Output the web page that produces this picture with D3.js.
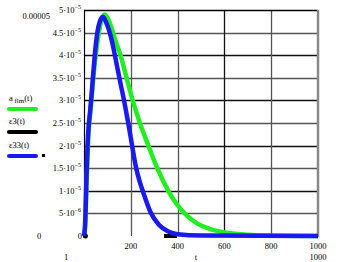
<!DOCTYPE html>
<html>
<head>
<meta charset="utf-8">
<script src="https://cdn.jsdelivr.net/npm/d3@7"></script>
<style>
  body { margin: 0; background: #fff; }
  text { font-family: "Liberation Serif", "DejaVu Serif", serif; fill: #000; }
</style>
</head>
<body>
<svg id="chart" width="339" height="262"></svg>
<script>
// a_flm(t) - green  (values in 1e-5)
const tGreen = [0, 5, 10, 16, 22, 30, 40, 50, 62, 75, 88, 105, 121, 132, 157, 182, 208, 239, 275, 313, 360, 400, 440, 483, 540, 600, 700, 800, 1000]
const aFlm   = [0, 0.2, 1.0, 1.9, 2.45, 2.9, 3.5, 4.0, 4.45, 4.78, 4.9, 4.78, 4.55, 4.36, 3.98, 3.5, 3.0, 2.5, 2.0, 1.5, 1.0, 0.68, 0.45, 0.28, 0.15, 0.08, 0.03, 0.01, 0]

// eps33(t) - blue
const tBlue = [0, 5, 10, 15, 20, 26, 31, 38, 46, 57, 68, 81, 95, 107, 118, 132, 151, 171, 189, 204, 221, 237, 253, 285, 320, 360, 400, 500, 1000]
const eps33 = [0, 0.3, 1.2, 2.0, 2.45, 2.75, 3.05, 3.5, 4.0, 4.5, 4.75, 4.85, 4.72, 4.55, 4.34, 4.0, 3.5, 3.0, 2.5, 2.05, 1.55, 1.22, 0.97, 0.52, 0.25, 0.1, 0.04, 0.01, 0]

// eps3(t) - black, only visible in a few spots at zero
const tBlack = [342, 355, 370, 385, 397]
const eps3   = [0, 0, 0, 0, 0]

const xTicks = [200, 400, 600, 800, 1000]
const yMant = ["5", "1", "1.5", "2", "2.5", "3", "3.5", "4", "4.5", "5"]
const yExp  = ["−6", "−5", "−5", "−5", "−5", "−5", "−5", "−5", "−5", "−5"]
const yVals = [0.5, 1, 1.5, 2, 2.5, 3, 3.5, 4, 4.5, 5]  // in 1e-5

const svg = d3.select("#chart")
const pLeft = 84, pRight = 318, pTop = 10, pBottom = 236

let x = d3.scaleLinear().domain([0, 1000]).range([pLeft, pRight])
let y = d3.scaleLinear().domain([0, 5]).range([pBottom, pTop])

// grid
svg.selectAll(".hgrid")
  .data(yVals.slice(0, -1))
  .enter().append("line")
    .attr("x1", pLeft).attr("x2", pRight)
    .attr("y1", d => Math.round(y(d)) + 0.5)
    .attr("y2", d => Math.round(y(d)) + 0.5)
    .attr("stroke", (d, i) => i % 2 ? "#111" : "#555")
    .attr("stroke-width", 1.3)

svg.selectAll(".vgrid")
  .data(xTicks.slice(0, -1))
  .enter().append("line")
    .attr("y1", pTop).attr("y2", pBottom)
    .attr("x1", d => Math.round(x(d)) + 0.5)
    .attr("x2", d => Math.round(x(d)) + 0.5)
    .attr("stroke", (d, i) => i == 2 ? "#111" : "#555")
    .attr("stroke-width", 1.3)

// frame
svg.append("line").attr("x1", pLeft).attr("x2", pRight).attr("y1", pTop + 0.5).attr("y2", pTop + 0.5)
  .attr("stroke", "#000").attr("stroke-width", 1.5)
svg.append("line").attr("x1", pLeft + 0.5).attr("x2", pLeft + 0.5).attr("y1", pTop).attr("y2", pBottom)
  .attr("stroke", "#000").attr("stroke-width", 1.2)
svg.append("line").attr("x1", pRight).attr("x2", pRight).attr("y1", pTop).attr("y2", pBottom + 1)
  .attr("stroke", "#888").attr("stroke-width", 2.5)

// curves
let line = d3.line()
  .x(d => x(d[0]))
  .y(d => y(d[1]))
  .curve(d3.curveMonotoneX)

svg.append("path")
  .datum(tGreen.map((t, i) => [t, aFlm[i]]))
  .attr("d", line)
  .attr("fill", "none")
  .attr("stroke", "#22ee22")
  .attr("stroke-width", 4.5)

svg.append("path")
  .datum(tBlack.map((t, i) => [t, eps3[i]]))
  .attr("d", line)
  .attr("fill", "none")
  .attr("stroke", "#000")
  .attr("stroke-width", 4)

svg.append("circle")
  .attr("cx", x(6)).attr("cy", y(0)).attr("r", 2.5).attr("fill", "#000")

svg.append("path")
  .datum(tBlue.map((t, i) => [t, eps33[i]]))
  .attr("d", line)
  .attr("fill", "none")
  .attr("stroke", "#1a1aee")
  .attr("stroke-width", 4.5)

// y tick labels
let yl = svg.selectAll(".ylab")
  .data(yVals)
  .enter().append("text")
    .attr("x", 81)
    .attr("y", d => y(d) + 3)
    .attr("text-anchor", "end")
    .attr("font-size", 8.5)
yl.append("tspan").text((d, i) => yMant[i] + "·10")
yl.append("tspan").attr("dy", -4).attr("font-size", 6).text((d, i) => yExp[i])

svg.append("text").attr("x", 82).attr("y", y(0) + 3).attr("text-anchor", "end")
  .attr("font-size", 8.5).text("0")

// x tick labels
svg.selectAll(".xlab")
  .data(xTicks)
  .enter().append("text")
    .attr("x", d => x(d))
    .attr("y", 249)
    .attr("text-anchor", "middle")
    .attr("font-size", 8.5)
    .text(d => d)

// range labels
svg.append("text").attr("x", 50).attr("y", 19).attr("text-anchor", "end").attr("font-size", 8.5).text("0.00005")
svg.append("text").attr("x", 39).attr("y", 239).attr("text-anchor", "middle").attr("font-size", 8.5).text("0")
svg.append("text").attr("x", 66).attr("y", 260).attr("text-anchor", "middle").attr("font-size", 8.5).text("1")
svg.append("text").attr("x", 196).attr("y", 260).attr("text-anchor", "middle").attr("font-size", 8.5).text("t")
svg.append("text").attr("x", 318).attr("y", 260).attr("text-anchor", "middle").attr("font-size", 8.5).text("1000")

// legend
const legNames = ["flm(t)", "ε3(t)", "ε33(t)"]
const legColors = ["#22ee22", "#000", "#1a1aee"]
const legY = [109, 132, 156]

legNames.forEach((n, i) => {
  let t = svg.append("text").attr("x", 9).attr("y", legY[i] - 8).attr("font-size", 8.5)
  if (i == 0) {
    t.append("tspan").text("a")
    t.append("tspan").attr("dy", 2).attr("font-size", 7).text(" flm")
    t.append("tspan").attr("dy", -2).text("(t)")
  } else {
    t.text(n)
  }
  svg.append("line")
    .attr("x1", 9).attr("x2", 36)
    .attr("y1", legY[i]).attr("y2", legY[i])
    .attr("stroke", legColors[i])
    .attr("stroke-width", 4)
    .attr("stroke-linecap", "round")
})

svg.append("rect").attr("x", 42).attr("y", 154).attr("width", 3).attr("height", 3).attr("fill", "#000")
</script>
</body>
</html>
